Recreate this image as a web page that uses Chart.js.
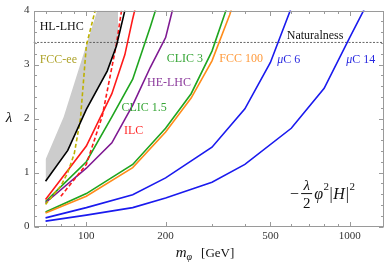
<!DOCTYPE html>
<html>
<head>
<meta charset="utf-8">
<script src="https://cdn.jsdelivr.net/npm/chart.js@4.4.0/dist/chart.umd.min.js"></script>
<style>
  html, body { margin: 0; padding: 0; background: #fff; }
</style>
</head>
<body>
<canvas id="lambdaChart" width="386" height="269"></canvas>
<script>
// reach in lambda vs scalar mass (GeV)
const massHLLHC = [70, 85, 100, 120, 130, 140];
const lambdaHLLHC = [0.84, 1.41, 2.17, 2.88, 3.34, 4.0];
const massBand = [70, 82, 110, 132];        // upper-left edge of grey HL-LHC band
const lambdaBand = [1.24, 2.03, 4.0, 4.0];
const massFCCee = [70, 80, 85, 90, 95, 100, 108];
const lambdaFCCee = [0.41, 0.75, 1.0, 1.35, 2.0, 3.35, 4.0];
const massILC = [70, 100, 125, 140, 150, 175];
const lambdaILC = [0.50, 1.49, 2.46, 3.18, 3.85, 5.2];
const massILCdash = [80, 100, 115, 130, 137];
const lambdaILCdash = [0.56, 1.15, 2.05, 3.37, 4.1];
const massHELHC = [70, 100, 125, 150, 175, 200, 225];
const lambdaHELHC = [0.44, 1.08, 1.55, 2.25, 2.95, 3.5, 4.5];
const massCLIC15 = [70, 100, 125, 150, 175, 200];
const lambdaCLIC15 = [0.46, 1.2, 2.03, 2.73, 3.7, 4.6];
const massCLIC3 = [70, 100, 150, 200, 250, 300, 350];
const lambdaCLIC3 = [0.27, 0.61, 1.15, 1.82, 2.46, 3.25, 4.2];
const massFCC100 = [70, 100, 150, 200, 250, 300, 350, 400];
const lambdaFCC100 = [0.25, 0.56, 1.09, 1.75, 2.38, 3.07, 3.92, 4.8];
const massMuC6 = [70, 100, 150, 200, 300, 400, 500, 600];
const lambdaMuC6 = [0.16, 0.35, 0.59, 0.90, 1.47, 2.18, 3.04, 4.05];
const massMuC14 = [70, 100, 150, 200, 300, 400, 600, 800, 1000, 1200];
const lambdaMuC14 = [0.10, 0.21, 0.35, 0.53, 0.82, 1.15, 1.82, 2.56, 3.5, 4.25];
const naturalness = 3.41;

const xRange = [63, 1350];
const xMajor = [100, 200, 500, 1000];
const xMinor = [70, 80, 90, 300, 400, 600, 700, 800, 900];
const yMajor = [0, 1, 2, 3, 4];
const yMinor = [0.2, 0.4, 0.6, 0.8, 1.2, 1.4, 1.6, 1.8, 2.2, 2.4, 2.6, 2.8, 3.2, 3.4, 3.6, 3.8];

// text labels: [text, mass, lambda, colour]
const labels = [
    ['HL-LHC', 66.5, 3.70, '#111111'],
    ['FCC-ee', 66.5, 3.09, '#aea32a'],
    ['CLIC 3', 202, 3.11, '#35a535'],
    ['FCC 100', 320, 3.11, '#ff9a3c'],
    ['μC 6', 531, 3.09, '#2a2ae0'],
    ['μC 14', 970, 3.09, '#2a2ae0'],
    ['HE-LHC', 170, 2.66, '#8c3a9c'],
    ['CLIC 1.5', 136, 2.20, '#35a535'],
    ['ILC', 139, 1.77, '#ff2a2a'],
    ['Naturalness', 577, 3.54, '#111111']
];

const SERIF = "'Liberation Serif', 'DejaVu Serif', serif";
const pts = (xs, ys) => xs.map((x, i) => ({ x: x, y: ys[i] }));

function curve(xs, ys, color, dash) {
    return {
        data: pts(xs, ys),
        borderColor: color,
        borderWidth: 1.6,
        borderDash: dash || [],
        pointRadius: 0,
        tension: 0,
        fill: false
    };
}

const datasets = [
    curve(massHLLHC, lambdaHLLHC, '#000000'),
    curve(massFCCee, lambdaFCCee, '#bdb100', [4, 2.5]),
    curve(massILCdash, lambdaILCdash, '#ff1a1a', [4, 2.5]),
    curve(massILC, lambdaILC, '#ff1a1a'),
    curve(massHELHC, lambdaHELHC, '#7f1a92'),
    curve(massCLIC15, lambdaCLIC15, '#1fa51f'),
    curve(massFCC100, lambdaFCC100, '#ff8c1a'),
    curve(massCLIC3, lambdaCLIC3, '#1fa51f'),
    curve(massMuC6, lambdaMuC6, '#1a1aee'),
    curve(massMuC14, lambdaMuC14, '#1a1aee'),
    {
        data: pts(xRange, [naturalness, naturalness]),
        borderColor: '#555555',
        borderWidth: 0.9,
        borderDash: [2, 1.5],
        pointRadius: 0,
        fill: false
    },
    {
        data: pts(massBand, lambdaBand),
        borderWidth: 0,
        borderColor: 'rgba(0,0,0,0)',
        backgroundColor: '#cccccc',
        pointRadius: 0,
        fill: { target: 0 },
        order: 20
    }
];

const framePlugin = {
    id: 'frame',
    afterDraw(chart) {
        const ctx = chart.ctx;
        const a = chart.chartArea;
        const xs = chart.scales.x, ys = chart.scales.y;
        ctx.save();
        ctx.strokeStyle = '#9a9a9a';
        ctx.lineWidth = 1;
        const L = Math.round(a.left) + 0.5, R = Math.round(a.right) - 0.5;
        const T = Math.round(a.top) + 0.5, B = Math.round(a.bottom) - 0.5;
        ctx.strokeRect(L, T, R - L, B - T);
        ctx.beginPath();
        const tickX = (v, len) => {
            const p = Math.round(xs.getPixelForValue(v)) + 0.5;
            ctx.moveTo(p, B); ctx.lineTo(p, B - len);
            ctx.moveTo(p, T); ctx.lineTo(p, T + len);
        };
        const tickY = (v, len) => {
            const p = Math.round(ys.getPixelForValue(v)) + 0.5;
            ctx.moveTo(L, p); ctx.lineTo(L + len, p);
            ctx.moveTo(R, p); ctx.lineTo(R - len, p);
        };
        xMajor.forEach(v => tickX(v, 4.5));
        xMinor.forEach(v => tickX(v, 2.5));
        yMajor.forEach(v => tickY(v, 4.5));
        yMinor.forEach(v => tickY(v, 2.5));
        ctx.stroke();

        // curve labels
        ctx.textBaseline = 'middle';
        ctx.textAlign = 'left';
        labels.forEach(([txt, m, lam, col]) => {
            let px = xs.getPixelForValue(m);
            const py = ys.getPixelForValue(lam);
            ctx.fillStyle = col;
            if (txt.startsWith('μ')) {
                ctx.font = 'italic 12px ' + SERIF;
                ctx.fillText('μ', px, py);
                px += ctx.measureText('μ').width;
                txt = txt.slice(1);
            }
            ctx.font = '12px ' + SERIF;
            ctx.fillText(txt, px, py);
        });

        // formula  -lambda/2 phi^2 |H|^2
        ctx.fillStyle = '#111';
        ctx.textBaseline = 'alphabetic';
        let fx = xs.getPixelForValue(594);
        const fy = ys.getPixelForValue(0.61);
        ctx.font = '16px ' + SERIF;
        ctx.fillText('−', fx, fy + 5);
        fx += ctx.measureText('−').width + 2;
        ctx.textAlign = 'center';
        ctx.font = 'italic 15px ' + SERIF;
        ctx.fillText('λ', fx + 5.5, fy - 4);
        ctx.font = '15px ' + SERIF;
        ctx.fillText('2', fx + 5.5, fy + 14);
        ctx.fillRect(fx, fy - 0.5, 11, 1);
        fx += 13;
        ctx.textAlign = 'left';
        const parts = [['italic 16px ', 'φ', 5], ['11px ', '2', -4], ['16px ', '|', 5], ['italic 16px ', 'H', 5], ['16px ', '|', 5], ['11px ', '2', -4]];
        parts.forEach(([f, t, dy]) => {
            ctx.font = f + SERIF;
            ctx.fillText(t, fx, fy + dy);
            fx += ctx.measureText(t).width + (t === 'H' ? 1 : 0.5);
        });

        // axis titles
        ctx.fillStyle = '#111';
        ctx.textAlign = 'center';
        ctx.textBaseline = 'middle';
        ctx.font = 'italic 15px ' + SERIF;
        ctx.fillText('λ', 9, (a.top + a.bottom) / 2);

        ctx.textAlign = 'left';
        ctx.textBaseline = 'alphabetic';
        let tx = (a.left + a.right) / 2 - 33;
        const ty = 257;
        ctx.font = 'italic 15px ' + SERIF;
        ctx.fillText('m', tx, ty);
        tx += ctx.measureText('m').width;
        ctx.font = 'italic 10px ' + SERIF;
        ctx.fillText('φ', tx, ty + 3);
        tx += ctx.measureText('φ').width + 9;
        ctx.font = '13px ' + SERIF;
        ctx.fillText('[GeV]', tx, ty);
        ctx.restore();
    }
};

const tickFont = { family: SERIF, size: 11 };

new Chart(document.getElementById('lambdaChart'), {
    type: 'line',
    data: { datasets: datasets },
    options: {
        responsive: false,
        animation: false,
        layout: { padding: { top: 7.5, right: 2, left: 0, bottom: 0 } },
        plugins: { legend: { display: false }, tooltip: { enabled: false } },
        scales: {
            x: {
                type: 'logarithmic',
                min: xRange[0],
                max: xRange[1],
                grid: { display: false, drawTicks: false },
                border: { display: false },
                ticks: { font: tickFont, color: '#333', padding: 3, maxRotation: 0, autoSkip: false, callback: v => String(v) },
                afterBuildTicks: s => { s.ticks = xMajor.map(v => ({ value: v })); },
                afterFit: s => { s.height = 42.5; }
            },
            y: {
                min: 0,
                max: 4,
                grid: { display: false, drawTicks: false },
                border: { display: false },
                ticks: { font: tickFont, color: '#333', padding: 4, stepSize: 1 },
                afterFit: s => { s.width = 33.5; }
            }
        }
    },
    plugins: [framePlugin]
});
</script>
</body>
</html>
